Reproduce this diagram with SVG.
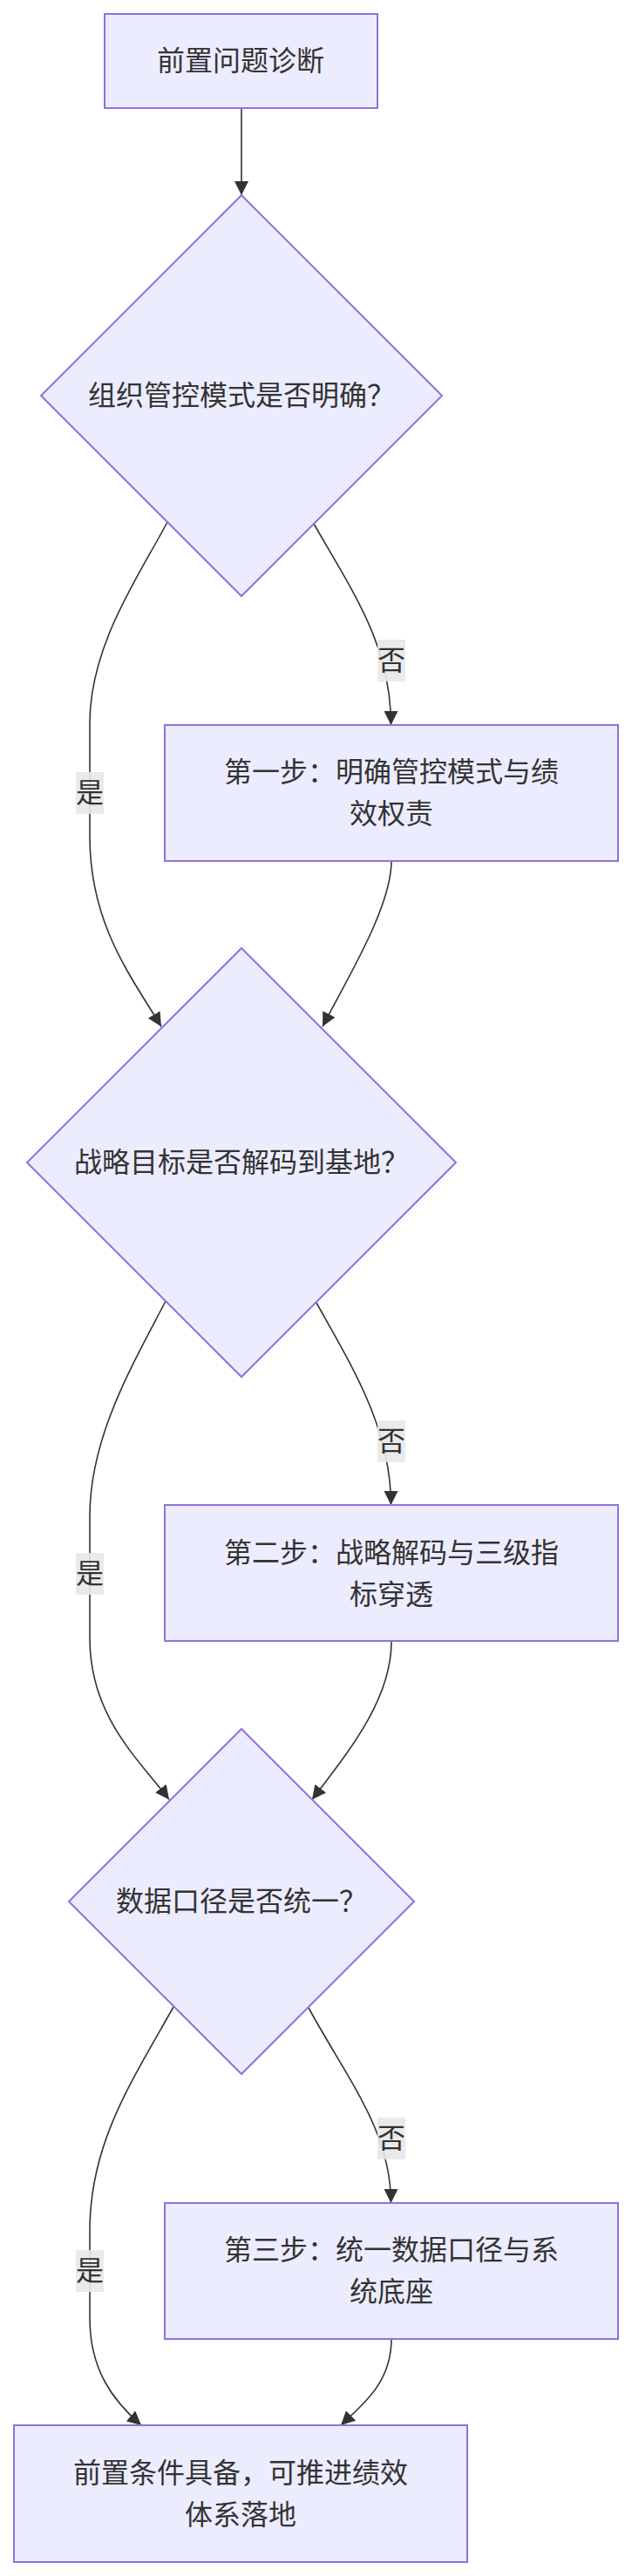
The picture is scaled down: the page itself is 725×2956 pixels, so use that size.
<svg xmlns="http://www.w3.org/2000/svg" width="725" height="2956" viewBox="0 0 725 2956">
<style>
.nd{fill:#ECECFF;stroke:#9370DB;stroke-width:2}
.t{font-family:"Noto Sans CJK SC","Liberation Sans",sans-serif;font-size:32px;fill:#333;text-anchor:middle}
.e{fill:none;stroke:#333;stroke-width:1.6;marker-end:url(#arr)}
.lb{fill:#e8e8e8;opacity:0.9}
</style>
<defs>
<marker id="arr" viewBox="0 0 10 10" refX="10" refY="5" markerUnits="userSpaceOnUse" markerWidth="16" markerHeight="16" orient="auto">
<path d="M0,0 L10,5 L0,10 z" fill="#333"/>
</marker>
</defs>
<g id="edges">
<path class="e" d="M277,124 L277,224"/>
<path class="e" d="M192,599 C160,660 103,740 103,830 L103,960 C103,1060 150,1120 185,1178"/>
<path class="e" d="M360,601 C405,680 448.5,740 448.5,832"/>
<path class="e" d="M449,988 C449,1040 400,1120 370,1178"/>
<path class="e" d="M190,1493 C150,1570 103,1650 103,1740 L103,1880 C103,1970 160,2020 194,2065"/>
<path class="e" d="M363,1495 C405,1570 448.5,1640 448.5,1727"/>
<path class="e" d="M449,1884 C449,1950 400,2010 358,2065"/>
<path class="e" d="M199,2303 C150,2390 103,2460 103,2560 L103,2660 C103,2720 130,2755 162,2783"/>
<path class="e" d="M354,2304 C398,2385 448.5,2445 448.5,2528"/>
<path class="e" d="M449,2684 C449,2735 415,2760 391,2783"/>
</g>
<g id="edge-labels">
<rect class="lb" x="87" y="886" width="32" height="48"/><text class="t" x="103" y="921">是</text>
<rect class="lb" x="433" y="734" width="32" height="48"/><text class="t" x="449" y="769">否</text>
<rect class="lb" x="87" y="1782" width="32" height="48"/><text class="t" x="103" y="1817">是</text>
<rect class="lb" x="433" y="1630" width="32" height="48"/><text class="t" x="449" y="1665">否</text>
<rect class="lb" x="87" y="2582" width="32" height="48"/><text class="t" x="103" y="2617">是</text>
<rect class="lb" x="433" y="2430" width="32" height="48"/><text class="t" x="449" y="2465">否</text>
</g>
<g id="start">
<rect class="nd" x="120" y="16" width="313" height="108"/>
<text class="t" x="276" y="81">前置问题诊断</text>
</g>
<g id="q1">
<polygon class="nd" points="277,224 507,454 277,684 47,454"/>
<text class="t" x="277" y="465">组织管控模式是否明确？</text>
</g>
<g id="step1">
<rect class="nd" x="189" y="832" width="520" height="156"/>
<text class="t" x="449" y="897">第一步：明确管控模式与绩</text>
<text class="t" x="449" y="945">效权责</text>
</g>
<g id="q2">
<polygon class="nd" points="277,1088 523,1334 277,1580 31,1334"/>
<text class="t" x="277" y="1345">战略目标是否解码到基地？</text>
</g>
<g id="step2">
<rect class="nd" x="189" y="1727" width="520" height="156"/>
<text class="t" x="449" y="1793">第二步：战略解码与三级指</text>
<text class="t" x="449" y="1841">标穿透</text>
</g>
<g id="q3">
<polygon class="nd" points="277,1984 475,2182 277,2380 79,2182"/>
<text class="t" x="277" y="2193">数据口径是否统一？</text>
</g>
<g id="step3">
<rect class="nd" x="189" y="2528" width="520" height="156"/>
<text class="t" x="449" y="2593">第三步：统一数据口径与系</text>
<text class="t" x="449" y="2641">统底座</text>
</g>
<g id="done">
<rect class="nd" x="16" y="2783" width="520" height="157"/>
<text class="t" x="276" y="2849">前置条件具备，可推进绩效</text>
<text class="t" x="276" y="2897">体系落地</text>
</g>
</svg>
